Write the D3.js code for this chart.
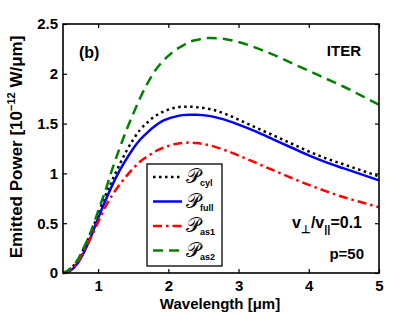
<!DOCTYPE html>
<html>
<head>
<meta charset="utf-8">
<script src="https://cdn.jsdelivr.net/npm/d3@7"></script>
<style>
  body { margin: 0; background: #fff; }
  svg { font-family: "Liberation Sans", Arial, sans-serif; font-weight: bold; }
  .tick text { font-size: 15px; font-weight: bold; }
</style>
</head>
<body>
<svg width="419" height="316"></svg>
<script>
// wavelength grid (um) and emitted power (1e-12 W/um)
var wavelength = [0.5,0.6,0.7,0.8,0.9,1.0,1.1,1.2,1.3,1.4,1.5,1.6,1.7,1.8,1.9,2.0,2.1,2.2,2.3,2.4,2.6,2.8,3.0,3.25,3.5,3.75,4.0,4.25,4.5,4.75,5.0];
var pCyl  = [0,0.04,0.12,0.25,0.41,0.59,0.77,0.93,1.08,1.22,1.34,1.44,1.51,1.57,1.61,1.64,1.66,1.67,1.67,1.665,1.645,1.60,1.54,1.46,1.38,1.30,1.22,1.15,1.09,1.03,0.97];
var pFull = [0,0.02,0.09,0.21,0.37,0.55,0.72,0.88,1.02,1.14,1.25,1.34,1.41,1.47,1.52,1.55,1.57,1.585,1.59,1.59,1.575,1.54,1.49,1.42,1.34,1.26,1.18,1.11,1.05,0.99,0.93];
var pAs1  = [0,0.03,0.10,0.22,0.36,0.51,0.66,0.78,0.88,0.97,1.05,1.12,1.17,1.215,1.25,1.275,1.295,1.305,1.31,1.305,1.28,1.235,1.18,1.105,1.03,0.955,0.885,0.82,0.76,0.71,0.66];
var pAs2  = [0,0.04,0.12,0.26,0.42,0.62,0.82,1.04,1.24,1.43,1.60,1.76,1.90,2.02,2.11,2.18,2.24,2.28,2.32,2.34,2.36,2.35,2.32,2.26,2.19,2.11,2.03,1.95,1.87,1.78,1.69];

var xTicks = [1,2,3,4,5];
var yTicks = [0,0.5,1,1.5,2,2.5];
var seriesNames = ['cyl','full','as1','as2'];

var series = [
  {name: 'cyl',  values: pCyl,  color: '#000000', dash: '2.5,3.5'},
  {name: 'full', values: pFull, color: '#0000ff', dash: null},
  {name: 'as1',  values: pAs1,  color: '#ff0000', dash: '9,4,2.5,4'},
  {name: 'as2',  values: pAs2,  color: '#008000', dash: '10,6'}
];

var svg = d3.select('svg');
var mLeft = 63, mRight = 379, mTop = 24, mBottom = 273;

var x = d3.scaleLinear().domain([0.5, 5]).range([mLeft, mRight]);
var y = d3.scaleLinear().domain([0, 2.5]).range([mBottom, mTop]);

// axes, ticks pointing inward
svg.append('g').attr('transform', 'translate(0,' + mBottom + ')')
  .call(d3.axisBottom(x).tickValues(xTicks).tickSize(-4).tickPadding(7).tickFormat(d3.format('d')));
svg.append('g').attr('transform', 'translate(' + mLeft + ',0)')
  .call(d3.axisLeft(y).tickValues(yTicks).tickSize(-4).tickPadding(5).tickFormat(function(d){ return d; }));
svg.append('g').attr('transform', 'translate(0,' + mTop + ')')
  .call(d3.axisTop(x).tickValues(xTicks).tickSize(-4).tickFormat(''));
svg.append('g').attr('transform', 'translate(' + mRight + ',0)')
  .call(d3.axisRight(y).tickValues(yTicks).tickSize(-4).tickFormat(''));
svg.selectAll('.domain').remove();
svg.selectAll('.tick line').attr('stroke', '#000').attr('stroke-width', 1.2);
svg.selectAll('.tick text').attr('fill', '#000');

var line = d3.line()
  .x(function(d){ return x(d[0]); })
  .y(function(d){ return y(d[1]); })
  .curve(d3.curveMonotoneX);

svg.append('g').selectAll('path').data(series).enter().append('path')
  .attr('d', function(s){ return line(wavelength.map(function(w,i){ return [w, s.values[i]]; })); })
  .attr('fill', 'none')
  .attr('stroke', function(s){ return s.color; })
  .attr('stroke-width', 2.5)
  .attr('stroke-dasharray', function(s){ return s.dash; });

svg.append('rect').attr('x', mLeft).attr('y', mTop)
  .attr('width', mRight - mLeft).attr('height', mBottom - mTop)
  .attr('fill', 'none').attr('stroke', '#000').attr('stroke-width', 1.6);

// labels
svg.append('text').attr('x', 220).attr('y', 309).attr('text-anchor', 'middle')
  .style('font-size', '15px').text('Wavelength [\u03bcm]');

var yl = svg.append('text').attr('transform', 'translate(22,147) rotate(-90)')
  .attr('text-anchor', 'middle').style('font-size', '17px');
yl.append('tspan').text('Emitted Power  [10');
yl.append('tspan').attr('dy', -7).style('font-size', '11px').text('\u221212');
yl.append('tspan').attr('dy', 7).text(' W/\u03bcm]');

svg.append('text').attr('x', 79).attr('y', 58).style('font-size', '16px').text('(b)');
svg.append('text').attr('x', 361).attr('y', 56).attr('text-anchor', 'end').style('font-size', '15px').text('ITER');

var vt = svg.append('text').attr('x', 292).attr('y', 228).style('font-size', '16px');
vt.append('tspan').text('v');
vt.append('tspan').attr('dy', 5).style('font-size', '11px').text('\u22a5');
vt.append('tspan').attr('dy', -5).text('/v');
vt.append('tspan').attr('dy', 5).style('font-size', '11px').text('||');
vt.append('tspan').attr('dy', -5).text('=0.1');
svg.append('text').attr('x', 364).attr('y', 259).attr('text-anchor', 'end').style('font-size', '15px').text('p=50');

// legend
var lg = svg.append('g');
lg.append('rect').attr('x', 147).attr('y', 164).attr('width', 75).attr('height', 102)
  .attr('fill', '#fff').attr('stroke', '#000').attr('stroke-width', 1.3);
var rows = lg.selectAll('g.row').data(series).enter().append('g')
  .attr('transform', function(d, i){ return 'translate(0,' + (177 + i * 24.5) + ')'; });
rows.append('line').attr('x1', 153).attr('x2', 182).attr('y1', 0).attr('y2', 0)
  .attr('stroke', function(s){ return s.color; }).attr('stroke-width', 2.5)
  .attr('stroke-dasharray', function(s){ return s.dash; });
var lt = rows.append('text').attr('x', 186).attr('y', 6);
lt.append('tspan').style('font-size', '20px').style('font-weight', 'normal')
  .style('font-family', '"DejaVu Sans", serif').text('\ud835\udcab');
lt.append('tspan').attr('dy', 3).style('font-size', '9px').text(function(s, i){ return seriesNames[i]; });
</script>
</body>
</html>
